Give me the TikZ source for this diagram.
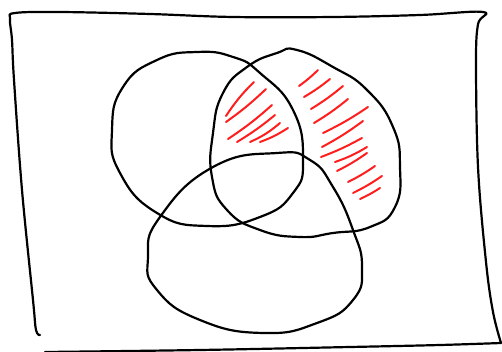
\documentclass[tikz,border=0pt]{standalone}
\tikzset{
  ink/.style={line width=2.2pt, black, line cap=round, line join=round},
  hatch/.style={line width=2pt, color={rgb,255:red,255;green,30;blue,30}, line cap=round},
}
\begin{document}
\begin{tikzpicture}[x=1pt,y=-1pt]
\useasboundingbox (0,0) rectangle (502,352);
% frame
\draw[ink] plot[smooth, tension=0.6] coordinates {(40,335) (36,330) (33,300) (22,190) (14,80) (12,40) (10,19) (15,13) (60,12) (150,14) (233,17) (333,17) (420,15) (483,12) (478,24) (476,60) (478,167) (486,262) (493,312) (501,343)};
\draw[ink] plot[smooth, tension=0.6] coordinates {(45,352) (200,350) (350,347) (440,345) (501,343)};
% circle A
\draw[ink] plot[smooth cycle, tension=0.85] coordinates {(197,52) (157,60) (123,87) (112,130) (120,173) (157,213) (207,226) (260,217) (293,193) (303,160) (293,110) (260,73) (233,57)};
% circle B
\draw[ink] plot[smooth cycle, tension=0.85] coordinates {(297,50) (333,67) (367,90) (393,127) (400,167) (395,207) (370,227) (333,233) (300,237) (260,230) (227,210) (212,177) (213,133) (223,93) (247,67) (277,53)};
% circle C
\draw[ink] plot[smooth cycle, tension=0.85] coordinates {(277,153) (213,167) (160,217) (148,257) (157,290) (200,320) (263,333) (317,323) (353,300) (362,267) (353,230) (333,187) (310,160)};
% hatching in A and B (above C)
\draw[hatch] (254,82) to[bend right=6] (226,116);
\draw[hatch] (266,89) to[bend left=4] (226,122);
\draw[hatch] (272,105) to[bend left=4] (228,139);
\draw[hatch] (275,115) to[bend left=4] (237,142);
\draw[hatch] (280,123) to[bend left=8] (250,142);
\draw[hatch] (288,128) to[bend left=6] (260,142);
% hatching in B only
\draw[hatch] (318,70) to[bend left=4] (299,86);
\draw[hatch] (330,79) to[bend left=4] (304,97);
\draw[hatch] (343,86) to[bend left=4] (311,109);
\draw[hatch] (348,99) to[bend left=4] (314,123);
\draw[hatch] (368,107) to[bend left=4] (323,133);
\draw[hatch] (363,121) to[bend left=4] (322,147);
\draw[hatch] (362,138) to[bend left=4] (321,157);
\draw[hatch] (367,147) to[bend left=6] (335,162);
\draw[hatch] (367,153) to[bend left=4] (337,171);
\draw[hatch] (375,166) to[bend left=4] (348,182);
\draw[hatch] (382,176) to[bend left=4] (353,193);
\draw[hatch] (380,188) to[bend left=4] (360,199);
\end{tikzpicture}
\end{document}
